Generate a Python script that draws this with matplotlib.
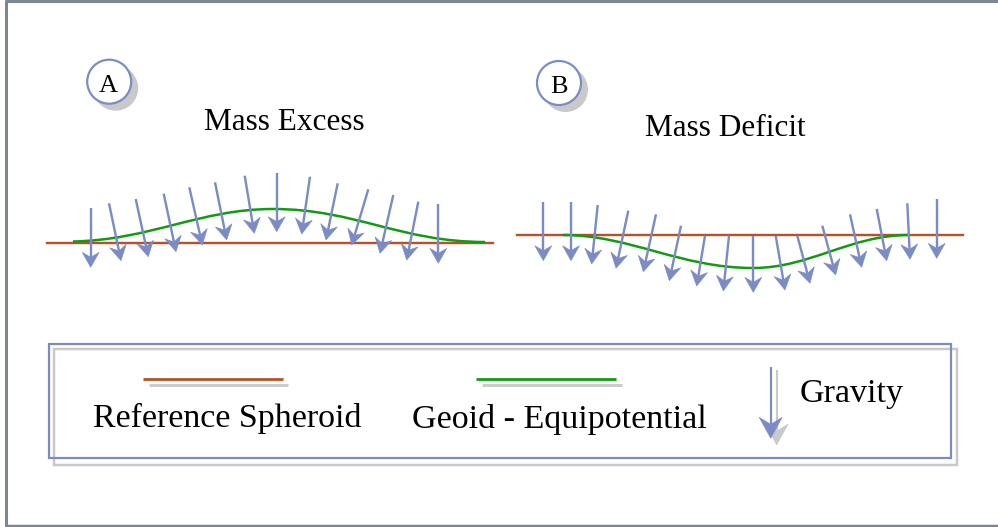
import numpy as np
import matplotlib.pyplot as plt
from matplotlib.patches import Circle, Rectangle, Polygon, PathPatch
from matplotlib.path import Path

# colours
BLUE = "#7b8cc4"
RED = "#b4532b"
GREEN = "#139a13"
SHADOW = "#c9c9c9"
FRAME = "#7d8794"
SERIF = ["Liberation Serif", "DejaVu Serif"]

# panel A (mass excess): gravity arrows, tail -> tip, in picture pixels
a_tail_x = [90.7, 109.0, 135.7, 163.7, 189.3, 215.0, 244.7, 276.7, 310.0, 337.7, 368.3, 393.3, 418.3, 438.3]
a_tail_y = [208.3, 203.3, 199.0, 193.7, 187.3, 182.3, 175.7, 172.7, 176.7, 183.3, 189.3, 195.0, 201.7, 204.0]
a_tip_x = [90.7, 121.0, 148.3, 176.0, 202.3, 226.7, 254.3, 276.7, 301.7, 326.0, 351.7, 380.0, 406.7, 438.3]
a_tip_y = [267.3, 260.7, 256.7, 251.7, 245.0, 240.0, 233.3, 231.7, 234.0, 240.0, 245.0, 253.3, 260.0, 263.3]

# panel B (mass deficit)
b_tail_x = [543.3, 571.0, 597.7, 628.3, 656.0, 681.0, 705.0, 729.0, 753.3, 775.7, 797.3, 822.3, 850.0, 876.7, 907.3, 936.7]
b_tail_y = [201.7, 201.7, 205.0, 210.7, 214.3, 225.7, 235.7, 235.7, 235.7, 235.7, 235.7, 225.7, 214.3, 209.0, 203.3, 199.3]
b_tip_x = [543.3, 571.0, 591.7, 616.0, 643.3, 669.3, 696.7, 723.3, 753.3, 785.0, 810.0, 835.7, 861.7, 886.7, 910.0, 936.7]
b_tip_y = [260.7, 260.7, 264.0, 268.3, 271.7, 280.7, 286.0, 291.0, 292.3, 290.0, 283.3, 275.0, 267.3, 260.7, 259.3, 258.3]

# reference spheroid lines (x start, x end, y)
spheroid_a = (46.7, 492.7, 242.7)
spheroid_b = (516.7, 962.7, 235.0)

# geoid curves as cubic bezier control points
geoid_a = [(73, 241.5), (150, 240), (200, 209), (273, 209),
           (355, 209), (400, 242), (485, 242)]
geoid_b = [(563, 235), (630, 235), (680, 268), (753, 268),
           (810, 268), (850, 235), (909, 235)]

titles = ["Mass Excess", "Mass Deficit"]
legend_labels = ["Reference Spheroid", "Geoid - Equipotential", "Gravity"]


def px(v):
    # pixel width -> points at dpi 100
    return v * 0.72


def arrow(ax, x0, y0, x1, y1, color=BLUE, hl=15, hw=17, notch=5, lw=2.4, z=5):
    d = np.array([x1 - x0, y1 - y0], dtype=float)
    u = d / np.hypot(*d)
    p = np.array([-u[1], u[0]])
    tip = np.array([x1, y1])
    base = tip - hl * u
    back = tip - (hl - notch) * u
    ax.plot([x0, back[0]], [y0, back[1]], color=color, lw=px(lw),
            solid_capstyle="butt", zorder=z)
    head = [tip, base + hw / 2 * p, back, base - hw / 2 * p]
    ax.add_patch(Polygon(head, closed=True, facecolor=color,
                         edgecolor=color, lw=0.4, zorder=z))


def bezier(ax, pts, color, lw):
    codes = [Path.MOVETO] + [Path.CURVE4] * (len(pts) - 1)
    ax.add_patch(PathPatch(Path(pts, codes), facecolor="none",
                           edgecolor=color, lw=px(lw), zorder=3))


fig = plt.figure(figsize=(9.98, 5.27), dpi=100)
ax = fig.add_axes([0, 0, 1, 1])
ax.set_xlim(0, 998)
ax.set_ylim(527, 0)
ax.axis("off")

# outer frame
ax.plot([5, 998], [1.3, 1.3], color=FRAME, lw=px(3), solid_capstyle="butt")
ax.plot([6.5, 6.5], [0, 527], color=FRAME, lw=px(3), solid_capstyle="butt")
ax.plot([5, 998], [526, 526], color=FRAME, lw=px(2.5), solid_capstyle="butt")

# panel labels in circles
for cx, cy, lab in [(109.2, 81.7, "A"), (559.0, 83.0, "B")]:
    ax.add_patch(Circle((cx + 6.5, cy + 6.5), 22.5, facecolor=SHADOW,
                        edgecolor="none", zorder=1))
    ax.add_patch(Circle((cx, cy), 22.0, facecolor="white", edgecolor=BLUE,
                        lw=px(2.2), zorder=2))
    ax.text(cx - 0.5, cy + 9.8, lab, ha="center", va="baseline",
            fontsize=19, family=SERIF, zorder=3)

ax.text(284, 130, titles[0], ha="center", va="baseline",
        fontsize=22.5, family=SERIF)
ax.text(725, 136.5, titles[1], ha="center", va="baseline",
        fontsize=22.5, family=SERIF)

# spheroids and geoids
for x0, x1, y in [spheroid_a, spheroid_b]:
    ax.plot([x0, x1], [y, y], color=RED, lw=px(2.4), zorder=2)
bezier(ax, geoid_a, GREEN, 2.5)
bezier(ax, geoid_b, GREEN, 2.5)

for tx, ty, hx, hy in zip(a_tail_x + b_tail_x, a_tail_y + b_tail_y,
                          a_tip_x + b_tip_x, a_tip_y + b_tip_y):
    arrow(ax, tx, ty, hx, hy)

# legend box
ax.add_patch(Rectangle((54, 349), 902.7, 116, facecolor="none",
                       edgecolor=SHADOW, lw=px(2.5), zorder=1))
ax.add_patch(Rectangle((49, 344), 902, 114.3, facecolor="none",
                       edgecolor=BLUE, lw=px(2.2), zorder=2))

ax.plot([149, 288.3], [385.3, 385.3], color=SHADOW, lw=px(2.8), solid_capstyle="butt")
ax.plot([143, 282.7], [379.3, 379.3], color=RED, lw=px(2.8), solid_capstyle="butt")
ax.plot([482, 621.7], [385.3, 385.3], color=SHADOW, lw=px(2.8), solid_capstyle="butt")
ax.plot([476, 616], [379.3, 379.3], color=GREEN, lw=px(2.8), solid_capstyle="butt")

arrow(ax, 776.7, 370, 776.7, 445, color=SHADOW, hl=21, hw=23, notch=7, lw=2.2, z=3)
arrow(ax, 770.7, 366.7, 770.7, 438.3, color=BLUE, hl=21, hw=23, notch=7, lw=2.2, z=4)

ax.text(92.7, 426.7, legend_labels[0], ha="left", va="baseline",
        fontsize=24.5, family=SERIF)
ax.text(411.7, 428, legend_labels[1], ha="left", va="baseline",
        fontsize=24.5, family=SERIF)
ax.text(800, 401.7, legend_labels[2], ha="left", va="baseline",
        fontsize=24.5, family=SERIF)

fig.savefig("out.png", dpi=100)
